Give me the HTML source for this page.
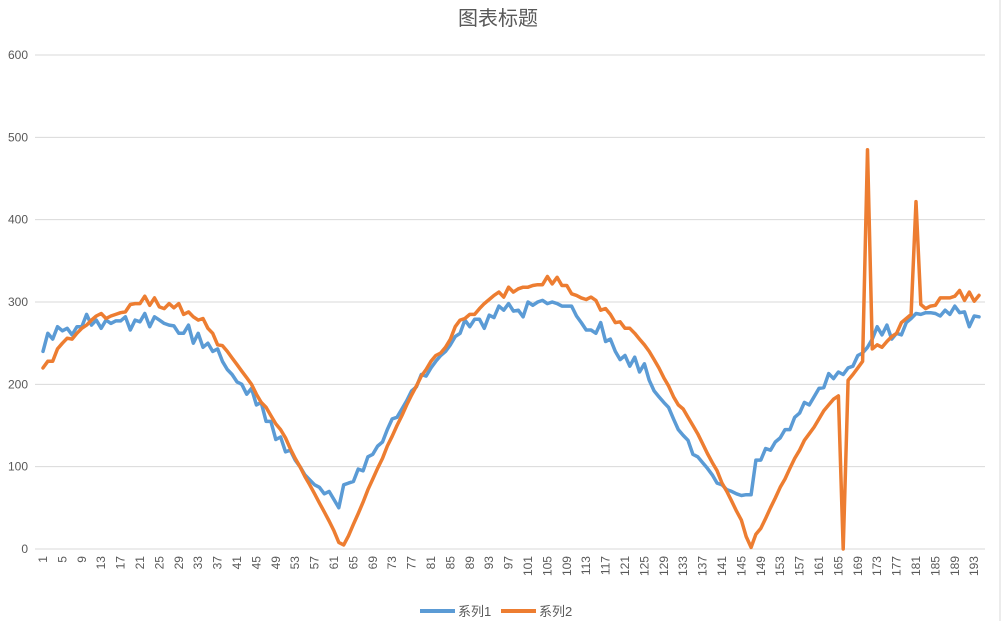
<!DOCTYPE html>
<html><head><meta charset="utf-8">
<style>
html,body{margin:0;padding:0;background:#fff;}
svg{display:block;font-family:"Liberation Sans","Noto Sans CJK SC",sans-serif;}
</style></head>
<body>
<svg id="chart" width="1006" height="621">
  <rect x="0" y="0" width="1006" height="621" fill="#fff"/>
  <line x1="1000" y1="0" x2="1000" y2="621" stroke="#d9d9d9"/>
  <text x="498" y="25" text-anchor="middle" font-size="20" fill="#595959">图表标题</text>
  <g id="grid"></g>
  <g id="yticks"></g>
  <g id="xticks"></g>
  <g id="series"></g>
  <g>
    <line x1="420" y1="611" x2="455" y2="611" stroke="#5b9bd5" stroke-width="4"/>
    <text x="458" y="616" font-size="13" fill="#595959">系列1</text>
    <line x1="501" y1="611" x2="536" y2="611" stroke="#ed7d31" stroke-width="4"/>
    <text x="539" y="616" font-size="13" fill="#595959">系列2</text>
  </g>
</svg>
<script>
const yTicks = [0,100,200,300,400,500,600];
const series1 = [240,262,255,270,265,268,260,270,270,285,272,278,268,278,274,277,277,282,266,278,276,286,270,282,278,274,272,271,262,262,272,250,262,245,250,240,243,228,218,212,203,200,188,195,175,178,155,155,133,136,118,120,108,100,90,84,78,75,67,70,60,50,78,80,82,97,95,112,115,125,130,145,158,160,170,180,192,197,212,210,220,228,235,240,248,258,262,278,270,279,279,268,284,281,295,290,298,289,290,282,300,296,300,302,298,300,298,295,295,295,283,275,266,266,262,275,252,255,240,230,235,222,233,215,225,205,192,185,178,172,158,145,138,132,115,112,105,98,90,80,78,72,70,67,65,66,66,108,108,122,120,130,135,145,145,160,165,178,175,185,195,196,213,207,215,212,220,222,235,238,245,255,270,260,272,255,262,260,275,280,286,285,287,287,286,283,290,285,295,287,288,270,283,282];
const series2 = [220,228,228,243,250,256,255,262,268,272,278,283,286,280,283,285,287,288,297,298,298,307,296,305,294,292,298,293,298,285,288,282,278,280,268,262,248,247,240,232,224,216,208,200,188,178,172,162,152,145,135,122,110,100,88,78,67,56,45,34,22,8,5,16,30,43,57,72,85,98,110,125,137,150,162,175,187,198,210,218,228,235,238,245,255,270,278,280,285,285,292,298,303,308,312,306,318,312,316,318,318,320,321,321,331,322,330,320,320,310,308,305,303,306,302,290,292,285,275,276,268,268,262,255,248,240,230,220,208,198,185,175,170,160,150,140,128,116,105,95,80,70,58,46,35,15,2,18,25,37,50,62,75,85,98,110,120,132,140,148,158,168,175,182,186,0,205,212,220,228,485,243,248,245,252,258,262,275,280,285,422,297,292,295,296,305,305,305,307,314,302,312,301,308];

const NS="http://www.w3.org/2000/svg";
const X0=43, X1=979, Y0=549, Y600=55;
const N=Math.max(series1.length, series2.length);
function xPos(i){return X0+(X1-X0)*i/(N-1);}
function yPos(v){return Y0-(Y0-Y600)*v/600;}

const grid=document.getElementById('grid');
const yt=document.getElementById('yticks');
yTicks.forEach(v=>{
  const l=document.createElementNS(NS,'line');
  l.setAttribute('x1',35);l.setAttribute('x2',985);
  l.setAttribute('y1',yPos(v));l.setAttribute('y2',yPos(v));
  l.setAttribute('stroke','#d9d9d9');l.setAttribute('stroke-width',1);
  
  
  grid.appendChild(l);
  const t=document.createElementNS(NS,'text');
  t.setAttribute('x',28);t.setAttribute('y',yPos(v)+4);
  t.setAttribute('text-anchor','end');t.setAttribute('font-size',12);t.setAttribute('fill','#595959');
  t.textContent=v;
  
  
  yt.appendChild(t);
});
const xt=document.getElementById('xticks');
for(let i=0;i<N;i+=4){
  const t=document.createElementNS(NS,'text');
  const x=xPos(i)+4, y=556;
  t.setAttribute('x',x);t.setAttribute('y',y);
  t.setAttribute('transform','rotate(-90 '+x+' '+y+')');
  t.setAttribute('text-anchor','end');t.setAttribute('font-size',12);t.setAttribute('fill','#595959');
  t.textContent=i+1;
  
  
  xt.appendChild(t);
}
const sg=document.getElementById('series');
[[series1,'#5b9bd5','series1-line'],[series2,'#ed7d31','series2-line']].forEach(([d,c,n])=>{
  const p=document.createElementNS(NS,'polyline');
  p.setAttribute('points',d.map((v,i)=>xPos(i).toFixed(1)+','+yPos(v).toFixed(1)).join(' '));
  p.setAttribute('fill','none');p.setAttribute('stroke',c);p.setAttribute('stroke-width',3.5);
  p.setAttribute('stroke-linejoin','round');p.setAttribute('stroke-linecap','round');
  
  
  sg.appendChild(p);
});
</script>
</body></html>
